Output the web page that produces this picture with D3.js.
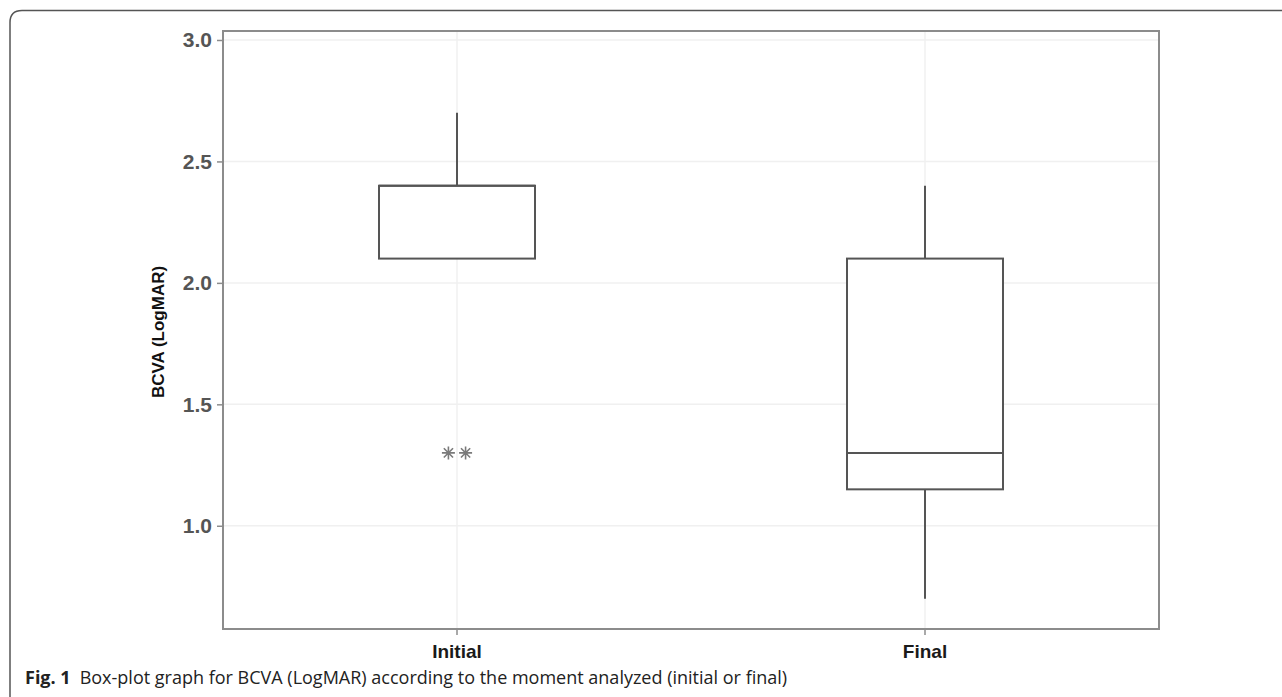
<!DOCTYPE html>
<html><head><meta charset="utf-8">
<script src="https://cdn.jsdelivr.net/npm/d3@7"></script>
<style>html,body{margin:0;padding:0;background:#fff;}svg{display:block;}</style>
</head><body>
<script>
// ---- data ----
const categories = ["Initial", "Final"];
const whiskerLow  = [2.1, 0.7];
const q1Values    = [2.1, 1.15];
const medians     = [2.4, 1.3];
const q3Values    = [2.4, 2.1];
const whiskerHigh = [2.7, 2.4];
const outliers    = [{cat: "Initial", value: 1.3}, {cat: "Initial", value: 1.3}];
const yTicks      = [1.0, 1.5, 2.0, 2.5, 3.0];
const yTitle = "BCVA (LogMAR)";
const captionBold = "Fig. 1";
const captionText = "Box-plot graph for BCVA (LogMAR) according to the moment analyzed (initial or final)";

const W = 1282, H = 697;
const svg = d3.select("body").append("svg").attr("width", W).attr("height", H);

// outer frame (left + top, rounded top-left corner)
const r = 12, fx = 10, fy = 10.5;
svg.append("path")
  .attr("d", `M${fx},${H} L${fx},${fy + r} Q${fx},${fy} ${fx + r},${fy} L${W},${fy}`)
  .attr("fill", "none").attr("stroke", "#555").attr("stroke-width", 1.5);

const panel = {left: 223, top: 31, right: 1159, bottom: 629};
const y = d3.scaleLinear().domain([0.575, 3.037]).range([panel.bottom, panel.top]);
const x = d3.scaleBand().domain(categories).range([panel.left, panel.right])
  .paddingInner(2 / 3).paddingOuter(1 / 3);
const bw = x.bandwidth();

// grid
const g = svg.append("g");
g.selectAll(".hg").data(yTicks).join("line")
  .attr("x1", panel.left).attr("x2", panel.right)
  .attr("y1", d => y(d)).attr("y2", d => y(d))
  .attr("stroke", "#f0f0f0").attr("stroke-width", 1.5);
g.selectAll(".vg").data(categories).join("line")
  .attr("x1", d => x(d) + bw / 2).attr("x2", d => x(d) + bw / 2)
  .attr("y1", panel.top).attr("y2", panel.bottom)
  .attr("stroke", "#f0f0f0").attr("stroke-width", 1.5);

// boxes
const stats = categories.map((c, i) => ({c, lo: whiskerLow[i], q1: q1Values[i], med: medians[i], q3: q3Values[i], hi: whiskerHigh[i]}));
const stroke = "#555", sw = 2;
const bx = g.selectAll(".box").data(stats).join("g");
bx.append("line").attr("x1", d => x(d.c) + bw / 2).attr("x2", d => x(d.c) + bw / 2)
  .attr("y1", d => y(d.q3)).attr("y2", d => y(d.hi)).attr("stroke", stroke).attr("stroke-width", sw);
bx.append("line").attr("x1", d => x(d.c) + bw / 2).attr("x2", d => x(d.c) + bw / 2)
  .attr("y1", d => y(d.q1)).attr("y2", d => y(d.lo)).attr("stroke", stroke).attr("stroke-width", sw);
bx.append("rect").attr("x", d => x(d.c)).attr("width", bw)
  .attr("y", d => y(d.q3)).attr("height", d => y(d.q1) - y(d.q3))
  .attr("fill", "#fff").attr("stroke", stroke).attr("stroke-width", sw);
bx.append("line").attr("x1", d => x(d.c)).attr("x2", d => x(d.c) + bw)
  .attr("y1", d => y(d.med)).attr("y2", d => y(d.med)).attr("stroke", stroke).attr("stroke-width", sw);

// outliers (shape 8: plus + cross, dodged side by side)
const rs = 6.5;
const starPath = [0, 45, 90, 135].map(a => {
  const t = a * Math.PI / 180, dx = rs * Math.cos(t), dy = rs * Math.sin(t);
  return `M${-dx},${-dy}L${dx},${dy}`;
}).join("");
outliers.forEach((o, i, arr) => {
  const same = arr.filter(p => p.cat === o.cat);
  const k = same.indexOf(o), n = same.length;
  const off = (k - (n - 1) / 2) * bw * 0.11;
  g.append("path").attr("d", starPath)
    .attr("transform", `translate(${x(o.cat) + bw / 2 + off},${y(o.value)})`)
    .attr("stroke", "#7a7a7a").attr("stroke-width", 1.6).attr("fill", "none");
});

// panel border
svg.append("rect").attr("x", panel.left).attr("y", panel.top)
  .attr("width", panel.right - panel.left).attr("height", panel.bottom - panel.top)
  .attr("fill", "none").attr("stroke", "#8c8c8c").attr("stroke-width", 2);

// axes
const yAxis = svg.append("g").attr("transform", `translate(${panel.left},0)`)
  .call(d3.axisLeft(y).tickValues(yTicks).tickFormat(d3.format(".1f")).tickSize(6).tickPadding(5));
const xAxis = svg.append("g").attr("transform", `translate(0,${panel.bottom})`)
  .call(d3.axisBottom(x).tickSize(6).tickPadding(10));
[yAxis, xAxis].forEach(a => {
  a.select(".domain").remove();
  a.selectAll(".tick line").attr("stroke", "#8c8c8c").attr("stroke-width", 1.5);
});
yAxis.selectAll(".tick text").attr("font-family", "Liberation Sans, Arial, sans-serif")
  .style("font-size", "21px").attr("font-weight", "bold").attr("fill", "#555");
xAxis.selectAll(".tick text").attr("font-family", "Liberation Sans, Arial, sans-serif")
  .style("font-size", "19px").attr("font-weight", "bold").attr("fill", "#1a1a1a");

// y title
svg.append("text").attr("transform", `translate(164,${(panel.top + panel.bottom) / 2 + 2}) rotate(-90)`)
  .attr("text-anchor", "middle").attr("font-family", "Liberation Sans, Arial, sans-serif")
  .style("font-size", "17px").attr("font-weight", "bold").attr("fill", "#111").text(yTitle);

// caption
const cap = svg.append("text").attr("x", 25).attr("y", 684)
  .attr("font-family", "Open Sans, Noto Sans, sans-serif").style("font-size", "18px").attr("fill", "#222");
cap.append("tspan").attr("font-weight", "bold").text(captionBold);
cap.append("tspan").attr("dx", 9).text(captionText);
</script>
</body></html>
